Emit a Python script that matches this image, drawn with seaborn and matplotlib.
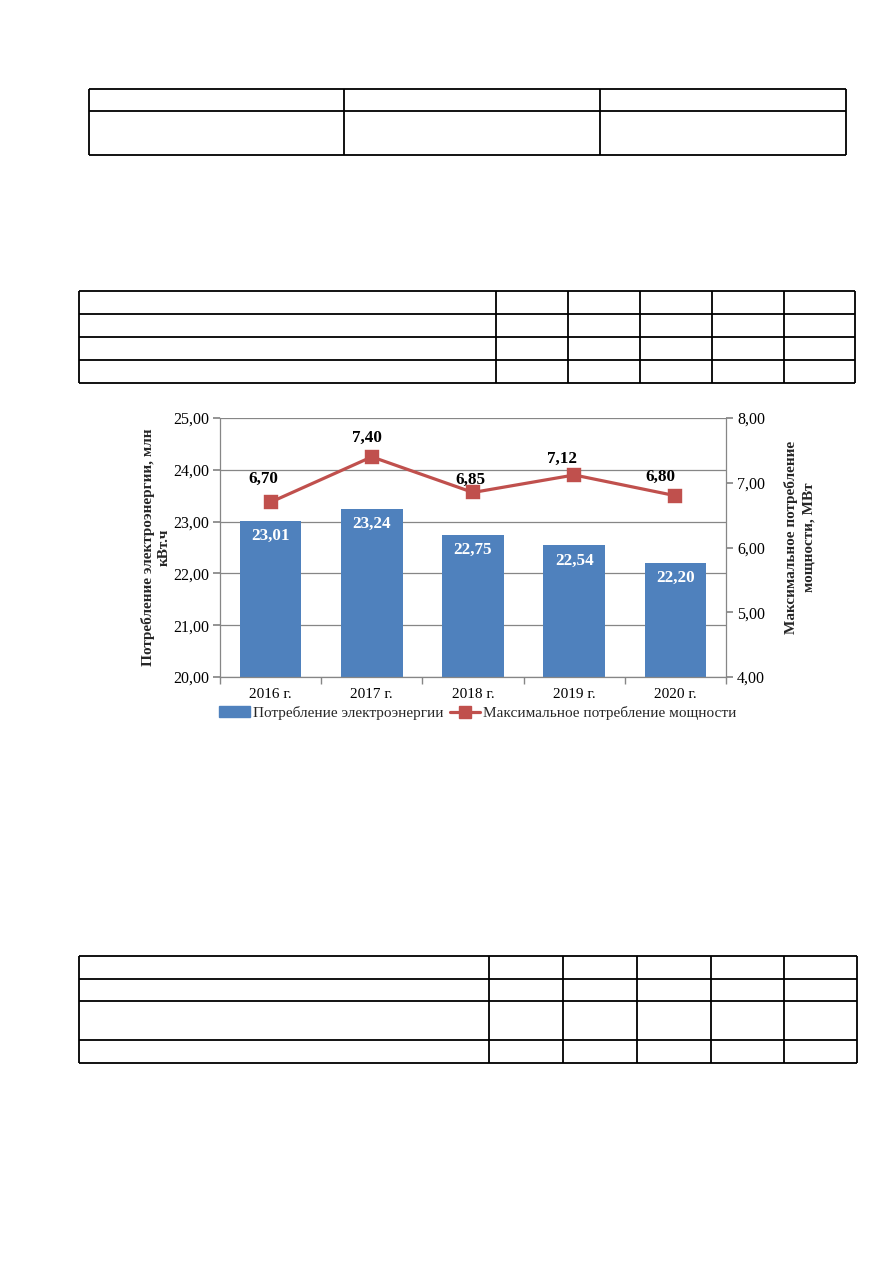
import matplotlib
matplotlib.use('Agg')
import matplotlib.pyplot as plt
import seaborn as sns
from matplotlib.patches import Patch
from matplotlib.lines import Line2D

# данные диаграммы
years = ['2016 г.', '2017 г.', '2018 г.', '2019 г.', '2020 г.']
energy = [23.01, 23.24, 22.75, 22.54, 22.20]   # млн кВт.ч
power = [6.70, 7.40, 6.85, 7.12, 6.80]          # МВт
energy_ticks = [20, 21, 22, 23, 24, 25]
power_ticks = [4, 5, 6, 7, 8]

BLUE = '#4F81BD'
RED = '#C0504D'
GRID = '#868686'


def fmt(v):
    return f'{v:.2f}'.replace('.', ',')


sns.set_theme(style='ticks')
plt.rcParams['font.family'] = ['Liberation Serif', 'DejaVu Serif']

W, H = 893, 1263
fig = plt.figure(figsize=(W / 100, H / 100), dpi=100)


def box(x0, y0, x1, y1):
    return [x0 / W, 1 - y1 / H, (x1 - x0) / W, (y1 - y0) / H]


# пустые таблицы на странице
page = fig.add_axes([0, 0, 1, 1], zorder=0)
page.set_xlim(0, W)
page.set_ylim(H, 0)
page.axis('off')
tables = [
    ([89, 344, 600, 846], [89, 111, 155]),
    ([79, 496, 568, 640, 712, 784, 855], [291, 314, 337, 360, 383]),
    ([79, 489, 563, 637, 711, 784, 857], [956, 979, 1001, 1040, 1063]),
]
for cols, rows in tables:
    page.vlines(cols, rows[0], rows[-1], color='black', lw=1.3)
    page.hlines(rows, cols[0], cols[-1], color='black', lw=1.3)

# диаграмма
ax = fig.add_axes(box(220, 418, 726, 677), zorder=1)
sns.barplot(x=years, y=energy, color=BLUE, saturation=1, width=0.61,
            linewidth=0, ax=ax)
ax.set_ylim(20, 25)
ax.set_yticks(energy_ticks)
ax.set_yticklabels([fmt(v) for v in energy_ticks])
ax.yaxis.grid(True, color=GRID, lw=0.9)
ax.set_axisbelow(True)
for s in ['top', 'right']:
    ax.spines[s].set_visible(False)
for s in ['left', 'bottom']:
    ax.spines[s].set_color(GRID)
    ax.spines[s].set_linewidth(0.9)
ax.tick_params(axis='y', length=5, color=GRID, labelsize=11.5, pad=3, labelcolor='black')
ax.tick_params(axis='x', which='major', length=0, labelsize=11, pad=8, labelcolor='black')
ax.set_xticks([i - 0.5 for i in range(len(years) + 1)], minor=True)
ax.tick_params(axis='x', which='minor', length=5, color=GRID)
ax.set_xlim(-0.5, len(years) - 0.5)
ax.set_xlabel('')

for patch, v in zip(ax.patches, energy):
    ax.annotate(fmt(v), (patch.get_x() + patch.get_width() / 2, patch.get_height()),
                xytext=(0, -15), textcoords='offset pixels', ha='center', va='center',
                color='white', weight='bold', fontsize=12.3)

ax.set_ylabel('Потребление электроэнергии, млн\nкВт.ч', weight='bold', fontsize=11,
              multialignment='center', linespacing=1.3)
ax.yaxis.set_label_coords(-0.097, 0.5)

ax2 = ax.twinx()
sns.pointplot(x=years, y=power, color=RED, markers='s', errorbar=None,
              markersize=8.5, linewidth=2.3, ax=ax2)
ax2.set_ylim(4, 8)
ax2.set_yticks(power_ticks)
ax2.set_yticklabels([fmt(v) for v in power_ticks])
ax2.grid(False)
for s in ['top', 'left', 'bottom']:
    ax2.spines[s].set_visible(False)
ax2.spines['right'].set_visible(True)
ax2.spines['right'].set_color(GRID)
ax2.spines['right'].set_linewidth(0.9)
ax2.tick_params(axis='y', length=5, color=GRID, labelsize=11.5, pad=3, labelcolor='black')
ax2.set_xlim(-0.5, len(years) - 0.5)

offsets = [(-7, 23), (-5, 19), (-3, 13), (-12, 16), (-15, 19)]
for i, (v, off) in enumerate(zip(power, offsets)):
    ax2.annotate(fmt(v), (i, v), xytext=off, textcoords='offset pixels',
                 ha='center', va='center', weight='bold', fontsize=12.3, color='black',
                 zorder=5)

ax2.set_ylabel('Максимальное потребление\nмощности, МВт', weight='bold', fontsize=11,
               multialignment='center', linespacing=1.45)
ax2.yaxis.set_label_coords(1.115, 0.54)

handles = [Patch(color=BLUE),
           Line2D([], [], color=RED, lw=2.3, marker='s', markersize=8)]
labels = ['Потребление электроэнергии', 'Максимальное потребление мощности']
fig.legend(handles, labels, loc='center', bbox_to_anchor=(478 / W, 1 - 713 / H),
           ncol=2, frameon=False, fontsize=11, handlelength=2.0, handletextpad=0.2,
           columnspacing=0.4)

fig.savefig('out.png', dpi=100, facecolor='white')
